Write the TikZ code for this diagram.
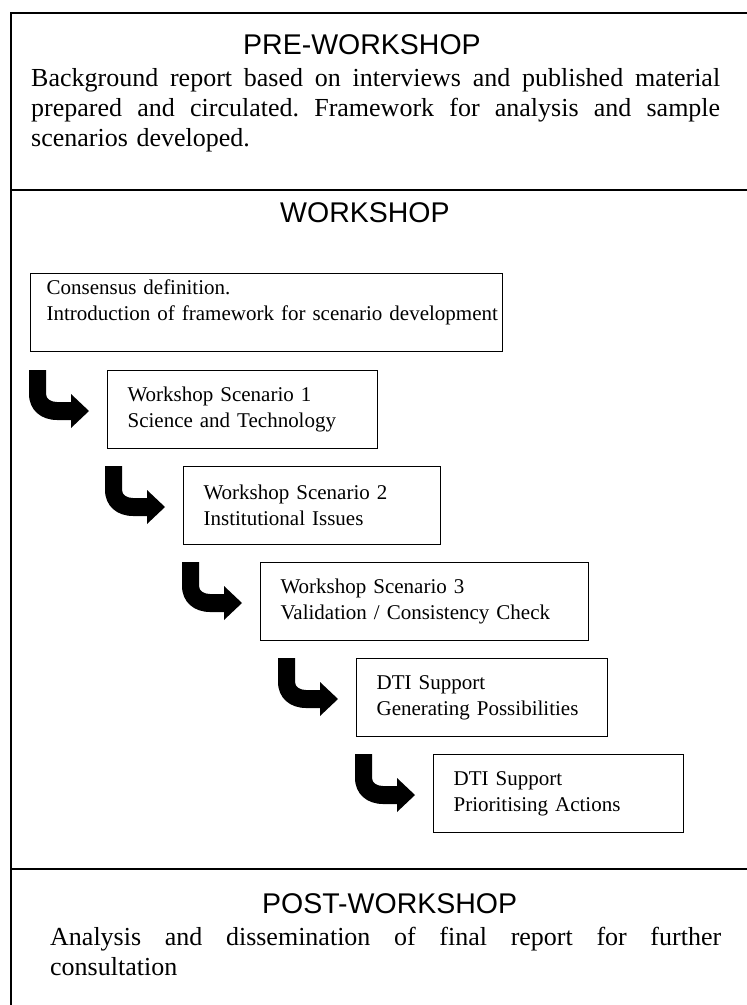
\documentclass[tikz,border=0pt]{standalone}
\usepackage{fontspec}
\setmainfont{Liberation Serif}
\newfontfamily\headfont{Liberation Sans}

% a full-width justified line: interword spaces share the spare room equally
\newcommand\spreadline[2]{\leavevmode\hbox to #1{\spaceskip=.25em plus 1fil\relax
  \xspaceskip=.25em plus 1fil\relax #2}}

% bent arrow leading into the next step, drawn from its top-left corner
\newcommand\bentarrow[1]{%
  \fill[bent, shift={(#1)}]
    (0,0) -- (0,24) .. controls (0,40) and (12,50) .. (28,50)
    -- (42,50) -- (42,58) -- (60,41) -- (42,24) -- (42,32) -- (28,32)
    .. controls (22,32) and (17,29) .. (17,24) -- (17,0) -- cycle;}

\tikzset{
  frame/.style={line width=2pt},
  stage/.style={anchor=base west, inner sep=0pt,
    font=\headfont\fontsize{28.5}{34}\selectfont},
  body/.style={anchor=base west, inner sep=0pt, align=left,
    font=\fontsize{26}{30}\selectfont},
  stepbox/.style={draw, line width=1.2pt, anchor=north west, inner ysep=0pt,
    inner xsep=20pt, minimum height=78pt, align=left,
    font=\fontsize{21}{26}\selectfont},
  bent/.style={fill=black}
}

\begin{document}
\begin{tikzpicture}[x=1pt, y=-1pt]
  \useasboundingbox (0,0) rectangle (747,1005);

  % outer frame and stage dividers
  \draw[frame] (747,13.3) -- (11,13.3) -- (11,1005);
  \draw[frame] (11,189.5) -- (747,189.5);
  \draw[frame] (11,869) -- (747,869);

  % pre-workshop stage
  \node[stage] (pretitle) at (243,54) {PRE-WORKSHOP};
  \node[body, text width=689pt] (pretext) at (31,86)
    {\spreadline{689pt}{Background report based on interviews and published material}\\
     \spreadline{689pt}{prepared and circulated. Framework for analysis and sample}\\
     scenarios developed.};

  % workshop stage
  \node[stage] (wtitle) at (280,222) {WORKSHOP};

  \node[stepbox, inner xsep=16pt, text width=440pt] (A) at (30,273)
    {Consensus definition.\\\mbox{Introduction of framework for scenario development}\\\mbox{}};
  \node[stepbox, text width=230pt] (B) at (107,370)
    {Workshop Scenario 1\\Science and Technology};
  \node[stepbox, text width=217pt] (C) at (183,466)
    {Workshop Scenario 2\\Institutional Issues};
  \node[stepbox, text width=288pt] (D) at (260,562)
    {Workshop Scenario 3\\Validation / Consistency Check};
  \node[stepbox, text width=211pt] (E) at (356,658)
    {DTI Support\\Generating Possibilities};
  \node[stepbox, text width=210pt] (F) at (433,754)
    {DTI Support\\Prioritising Actions};

  \foreach \s in {B,C,D,E,F} {
    \coordinate (arr\s) at ([xshift=-78pt]\s.north west);
    \bentarrow{arr\s}
  }

  % post-workshop stage
  \node[stage] (posttitle) at (262,913) {POST-WORKSHOP};
  \node[body, text width=671pt] (posttext) at (50,945)
    {\spreadline{671pt}{Analysis and dissemination of final report for further}\\
     consultation};
\end{tikzpicture}
\end{document}
